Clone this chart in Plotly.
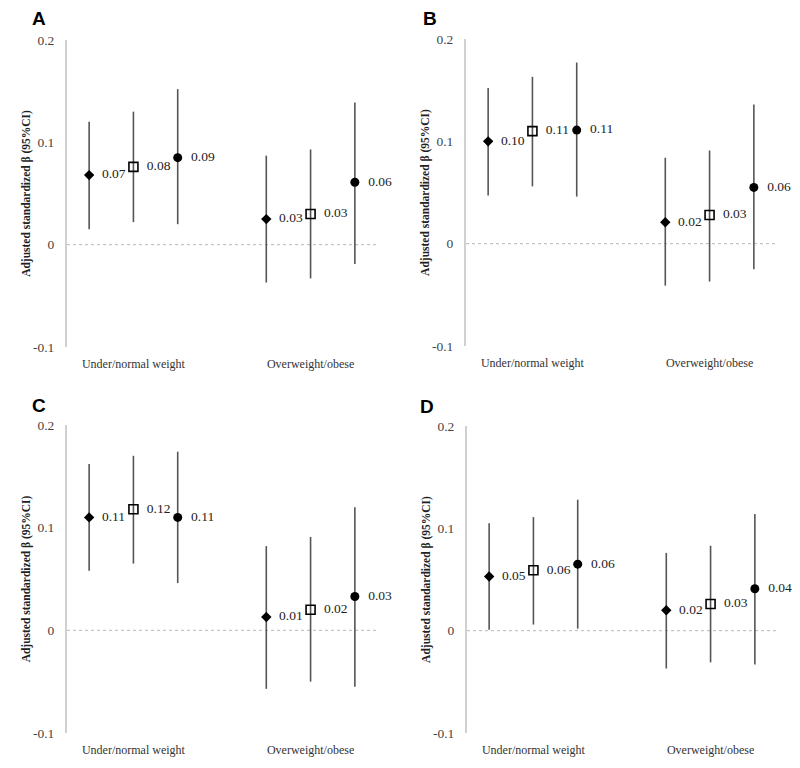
import plotly.graph_objects as go

# ---------------- data ----------------
categories = ["Under/normal weight", "Overweight/obese"]
series_names = ["Model 1", "Model 2", "Model 3"]
panel_letters = ["A", "B", "C", "D"]

# estimates per panel: [series][category]
A_est = [[0.068, 0.025], [0.076, 0.030], [0.085, 0.061]]
A_lo = [[0.015, -0.037], [0.022, -0.033], [0.020, -0.019]]
A_hi = [[0.120, 0.087], [0.130, 0.093], [0.152, 0.139]]
A_lab = [["0.07", "0.03"], ["0.08", "0.03"], ["0.09", "0.06"]]

B_est = [[0.100, 0.021], [0.110, 0.028], [0.111, 0.055]]
B_lo = [[0.047, -0.041], [0.056, -0.037], [0.046, -0.025]]
B_hi = [[0.152, 0.084], [0.163, 0.091], [0.177, 0.136]]
B_lab = [["0.10", "0.02"], ["0.11", "0.03"], ["0.11", "0.06"]]

C_est = [[0.110, 0.013], [0.118, 0.020], [0.110, 0.033]]
C_lo = [[0.058, -0.057], [0.065, -0.050], [0.046, -0.055]]
C_hi = [[0.162, 0.082], [0.170, 0.091], [0.174, 0.120]]
C_lab = [["0.11", "0.01"], ["0.12", "0.02"], ["0.11", "0.03"]]

D_est = [[0.053, 0.020], [0.059, 0.026], [0.065, 0.041]]
D_lo = [[0.001, -0.037], [0.006, -0.031], [0.002, -0.033]]
D_hi = [[0.105, 0.076], [0.111, 0.083], [0.128, 0.114]]
D_lab = [["0.05", "0.02"], ["0.06", "0.03"], ["0.06", "0.04"]]

y_ticks = [-0.1, 0, 0.1, 0.2]
y_ticktext = ["-0.1", "0", "0.1", "0.2"]

panels = [
    (A_est, A_lo, A_hi, A_lab),
    (B_est, B_lo, B_hi, B_lab),
    (C_est, C_lo, C_hi, C_lab),
    (D_est, D_lo, D_hi, D_lab),
]

# ---------------- style ----------------
offsets = [-0.25, 0.0, 0.25]
symbols = ["diamond", "square-open", "circle"]
msizes = [8, 9, 9]
serif = "Liberation Serif"

OFF = 8  # page body margin
W, H = 800 - OFF, 768 - OFF


def px_x(v):
    return (v - OFF) / W


def px_y(v):
    return 1 - (v - OFF) / H


xdomains = [[px_x(67), px_x(377)], [px_x(466), px_x(776)],
            [px_x(67), px_x(377)], [px_x(467), px_x(777)]]
ydomains = [[px_y(347), px_y(40)], [px_y(346), px_y(39)],
            [px_y(733), px_y(425)], [px_y(733), px_y(426)]]
letter_pos = [(39, 19), (430, 19), (39, 405), (427, 406)]

fig = go.Figure()

for p, (est, lo, hi, lab) in enumerate(panels):
    ax = "" if p == 0 else str(p + 1)
    for s in range(3):
        xs = [c + offsets[s] for c in range(len(categories))]
        plus = [hi[s][c] - est[s][c] for c in range(len(categories))]
        minus = [est[s][c] - lo[s][c] for c in range(len(categories))]
        fig.add_trace(go.Scatter(
            x=xs, y=est[s], mode="markers+text",
            name=series_names[s], showlegend=False, cliponaxis=False,
            text=["  " + t for t in lab[s]], textposition="middle right",
            textfont=dict(family=serif, size=13.5, color="#222222"),
            marker=dict(symbol=symbols[s], size=msizes[s], color="black",
                        line=dict(color="black", width=1.6 if s == 1 else 0)),
            error_y=dict(type="data", symmetric=False, array=plus, arrayminus=minus,
                         color="#555555", thickness=1.6, width=0),
            xaxis="x" + ax, yaxis="y" + ax,
        ))
    fig.update_layout(**{
        "xaxis" + ax: dict(
            domain=xdomains[p], anchor="y" + ax, range=[-0.375, 1.375],
            tickvals=list(range(len(categories))), ticktext=categories,
            showline=False, showgrid=False, zeroline=False, automargin=False,
            ticks="outside", ticklen=6, tickcolor="rgba(0,0,0,0)",
            tickfont=dict(family=serif, size=12, color="#333333"),
        ),
        "yaxis" + ax: dict(
            domain=ydomains[p], anchor="x" + ax, range=[-0.1, 0.2],
            tickvals=y_ticks, ticktext=y_ticktext,
            showline=True, linecolor="#d0d0d0", linewidth=2,
            showgrid=False, zeroline=False, automargin=False,
            ticks="outside", ticklen=8, tickcolor="rgba(0,0,0,0)",
            tickfont=dict(family=serif, size=13.5, color="#444444"),
            title=dict(text="<b>Adjusted standardized β (95%CI)</b>", standoff=0,
                       font=dict(family=serif, size=11.5, color="#222222")),
        ),
    })
    fig.add_shape(type="line", xref="x" + ax + " domain", yref="y" + ax,
                  x0=0, x1=1, y0=0, y1=0,
                  line=dict(color="#b8b8b8", width=1, dash="3px,3px"), layer="below")
    lx, ly = letter_pos[p]
    fig.add_annotation(text="<b>" + panel_letters[p] + "</b>", xref="paper", yref="paper",
                       x=px_x(lx), y=px_y(ly), xanchor="center", yanchor="middle",
                       showarrow=False,
                       font=dict(family="Liberation Sans", size=19, color="black"))

fig.update_layout(width=W, height=H, margin=dict(l=0, r=0, t=0, b=0, autoexpand=False),
                  paper_bgcolor="white", plot_bgcolor="white")

fig.write_html("out.html")
